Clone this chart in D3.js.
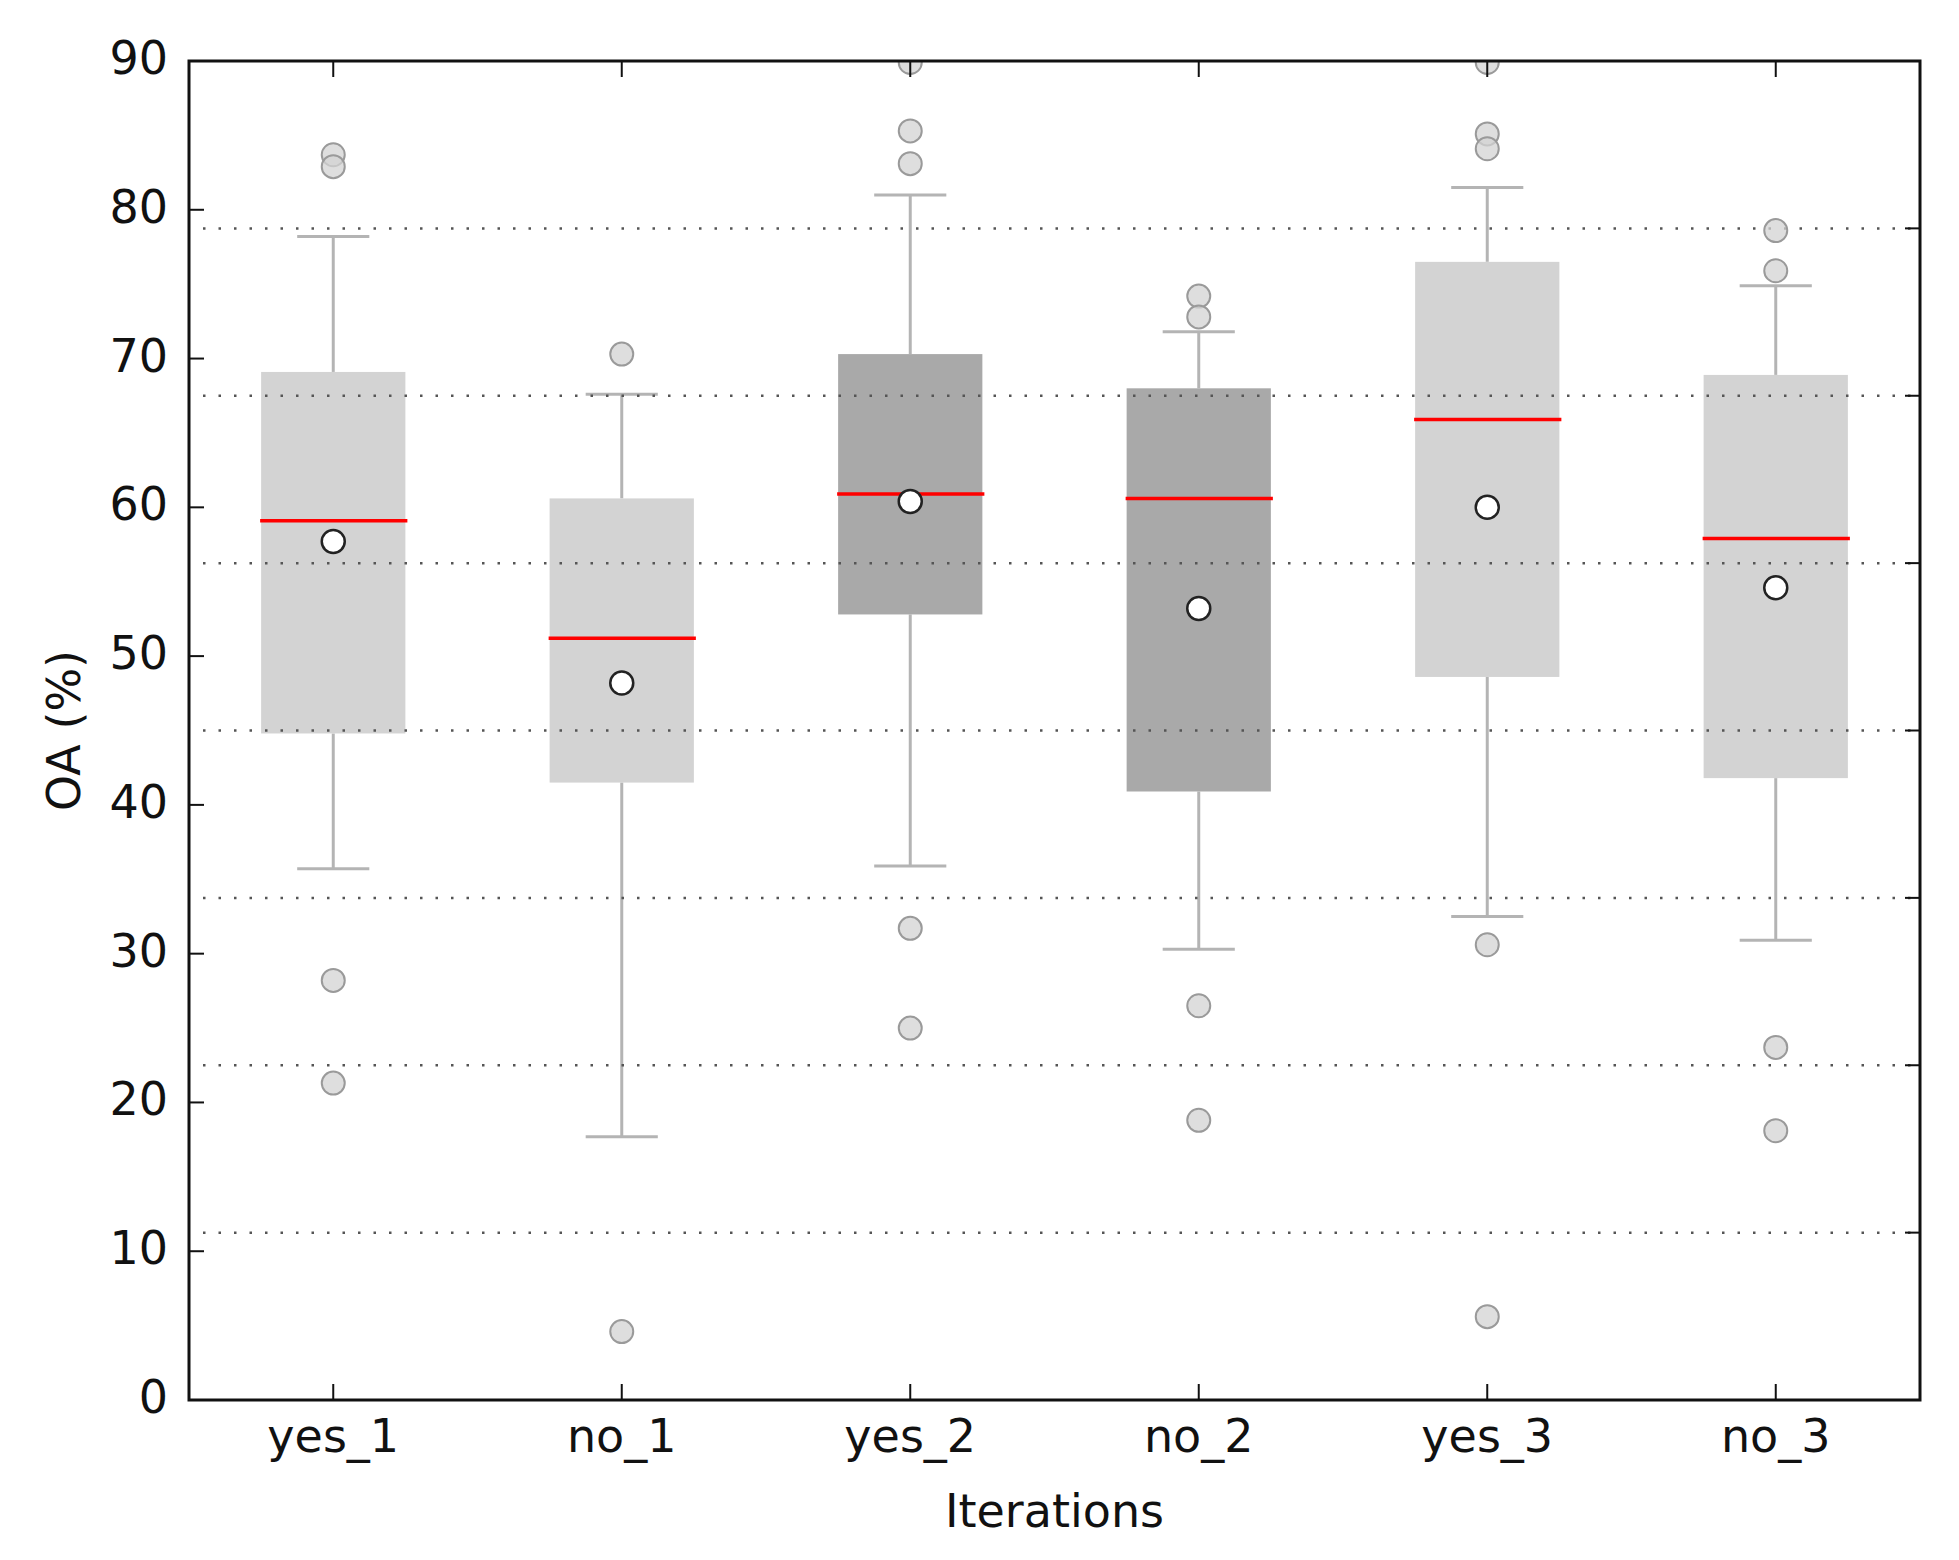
<!DOCTYPE html>
<html>
<head>
<meta charset="utf-8">
<script src="https://cdn.jsdelivr.net/npm/d3@7"></script>
<style>
  body { margin: 0; background: #fff; }
  text { font-family: "DejaVu Sans", sans-serif; fill: #111; }
</style>
</head>
<body>
<div id="chart-area"></div>
<script>
// OA (%) box plots per iteration

const categories = ["yes_1", "no_1", "yes_2", "no_2", "yes_3", "no_3"]
const q1 =        [44.8, 41.5, 52.8, 40.9, 48.6, 41.8]
const q3 =        [69.1, 60.6, 70.3, 68.0, 76.5, 68.9]
const medians =   [59.1, 51.2, 60.9, 60.6, 65.9, 57.9]
const means =     [57.7, 48.2, 60.4, 53.2, 60.0, 54.6]
const whiskLow =  [35.7, 17.7, 35.9, 30.3, 32.5, 30.9]
const whiskHigh = [78.2, 67.6, 81.0, 71.8, 81.5, 74.9]
const outliers = [
  [83.7, 82.9, 28.2, 21.3],
  [70.3, 4.6],
  [89.9, 85.3, 83.1, 31.7, 25.0],
  [74.2, 72.8, 26.5, 18.8],
  [89.9, 85.1, 84.1, 30.6, 5.6],
  [78.6, 75.9, 23.7, 18.1]
]
const boxFill = ["#d3d3d3", "#d3d3d3", "#a9a9a9", "#a9a9a9", "#d3d3d3", "#d3d3d3"]
const yTicks = [0, 10, 20, 30, 40, 50, 60, 70, 80, 90]

// chart area
const W = 1959, H = 1560
const LEFT = 189, RIGHT = 1920, TOP = 61, BOTTOM = 1400

const svg = d3.select("#chart-area").append("svg")
    .attr("width", W)
    .attr("height", H)

const x = d3.scaleBand()
    .domain(categories)
    .range([LEFT, RIGHT])

const y = d3.scaleLinear()
    .domain([0, 90])
    .range([BOTTOM, TOP])

// right hand axis: 8 equal intervals, ticks + grid only
const yRight = d3.scaleLinear()
    .domain([0, 8])
    .range([BOTTOM, TOP])

const cx = c => x(c) + x.bandwidth() / 2
const boxW = x.bandwidth() * 0.5

svg.append("clipPath").attr("id", "plot-clip")
  .append("rect")
    .attr("x", LEFT).attr("y", TOP)
    .attr("width", RIGHT - LEFT).attr("height", BOTTOM - TOP)

const plot = svg.append("g").attr("clip-path", "url(#plot-clip)")

const rows = categories.map((c, i) => ({
  cat: c, q1: q1[i], q3: q3[i], med: medians[i], mean: means[i],
  lo: whiskLow[i], hi: whiskHigh[i], out: outliers[i], fill: boxFill[i]
}))

// whiskers
const wcol = "#b4b4b4"
plot.selectAll(".whisk-lo").data(rows).enter().append("line")
    .attr("x1", d => cx(d.cat)).attr("x2", d => cx(d.cat))
    .attr("y1", d => y(d.q1)).attr("y2", d => y(d.lo))
    .attr("stroke", wcol).attr("stroke-width", 3)
plot.selectAll(".whisk-hi").data(rows).enter().append("line")
    .attr("x1", d => cx(d.cat)).attr("x2", d => cx(d.cat))
    .attr("y1", d => y(d.q3)).attr("y2", d => y(d.hi))
    .attr("stroke", wcol).attr("stroke-width", 3)

// caps
plot.selectAll(".cap-lo").data(rows).enter().append("line")
    .attr("x1", d => cx(d.cat) - boxW / 4).attr("x2", d => cx(d.cat) + boxW / 4)
    .attr("y1", d => y(d.lo)).attr("y2", d => y(d.lo))
    .attr("stroke", wcol).attr("stroke-width", 3)
plot.selectAll(".cap-hi").data(rows).enter().append("line")
    .attr("x1", d => cx(d.cat) - boxW / 4).attr("x2", d => cx(d.cat) + boxW / 4)
    .attr("y1", d => y(d.hi)).attr("y2", d => y(d.hi))
    .attr("stroke", wcol).attr("stroke-width", 3)

// boxes
plot.selectAll(".box").data(rows).enter().append("rect")
    .attr("x", d => cx(d.cat) - boxW / 2)
    .attr("width", boxW)
    .attr("y", d => y(d.q3))
    .attr("height", d => y(d.q1) - y(d.q3))
    .attr("fill", d => d.fill)

// dotted grid from right axis, drawn over boxes
plot.selectAll(".grid").data(d3.range(1, 8)).enter().append("line")
    .attr("x1", LEFT + 14).attr("x2", RIGHT)
    .attr("y1", d => yRight(d)).attr("y2", d => yRight(d))
    .attr("stroke", "#555").attr("stroke-width", 2.5)
    .attr("stroke-dasharray", "2.5,13")

// medians
plot.selectAll(".median").data(rows).enter().append("line")
    .attr("x1", d => cx(d.cat) - boxW / 2 - 1).attr("x2", d => cx(d.cat) + boxW / 2 + 2)
    .attr("y1", d => y(d.med)).attr("y2", d => y(d.med))
    .attr("stroke", "#ff0000").attr("stroke-width", 3.5)

// outliers
const flier = rows.flatMap(d => d.out.map(v => ({ cat: d.cat, v })))
plot.selectAll(".flier").data(flier).enter().append("circle")
    .attr("cx", d => cx(d.cat))
    .attr("cy", d => y(d.v))
    .attr("r", 11.5)
    .attr("fill", "#d3d3d3").attr("fill-opacity", 0.75)
    .attr("stroke", "#9a9a9a").attr("stroke-width", 2)

// means
plot.selectAll(".mean").data(rows).enter().append("circle")
    .attr("cx", d => cx(d.cat))
    .attr("cy", d => y(d.mean))
    .attr("r", 11.5)
    .attr("fill", "#fff")
    .attr("stroke", "#222").attr("stroke-width", 2.5)

// frame + inward ticks
const tickLen = 15
const ticks = svg.append("g").attr("stroke", "#111").attr("stroke-width", 2)
ticks.selectAll(".tl").data(yTicks).enter().append("line")
    .attr("x1", LEFT).attr("x2", LEFT + tickLen)
    .attr("y1", d => y(d)).attr("y2", d => y(d))
ticks.selectAll(".tr").data(d3.range(0, 9)).enter().append("line")
    .attr("x1", RIGHT - tickLen).attr("x2", RIGHT)
    .attr("y1", d => yRight(d)).attr("y2", d => yRight(d))
ticks.selectAll(".tb").data(categories).enter().append("line")
    .attr("x1", cx).attr("x2", cx)
    .attr("y1", BOTTOM).attr("y2", BOTTOM - tickLen - 1)
ticks.selectAll(".tt").data(categories).enter().append("line")
    .attr("x1", cx).attr("x2", cx)
    .attr("y1", TOP).attr("y2", TOP + tickLen + 1)

svg.append("rect")
    .attr("x", LEFT).attr("y", TOP)
    .attr("width", RIGHT - LEFT).attr("height", BOTTOM - TOP)
    .attr("fill", "none").attr("stroke", "#111").attr("stroke-width", 3)

// tick labels
svg.selectAll(".ylab").data(yTicks).enter().append("text")
    .attr("x", LEFT - 21)
    .attr("y", d => y(d) + 13)
    .attr("text-anchor", "end")
    .attr("font-size", "46px")
    .text(d => d)

svg.selectAll(".xlab").data(categories).enter().append("text")
    .attr("x", cx)
    .attr("y", 1452)
    .attr("text-anchor", "middle")
    .attr("font-size", "46px")
    .text(d => d)

// axis labels
svg.append("text")
    .attr("x", (LEFT + RIGHT) / 2)
    .attr("y", 1527)
    .attr("text-anchor", "middle")
    .attr("font-size", "46px")
    .text("Iterations")

svg.append("text")
    .attr("transform", `translate(80, ${(TOP + BOTTOM) / 2}) rotate(-90)`)
    .attr("text-anchor", "middle")
    .attr("font-size", "46px")
    .text("OA (%)")
</script>
</body>
</html>
